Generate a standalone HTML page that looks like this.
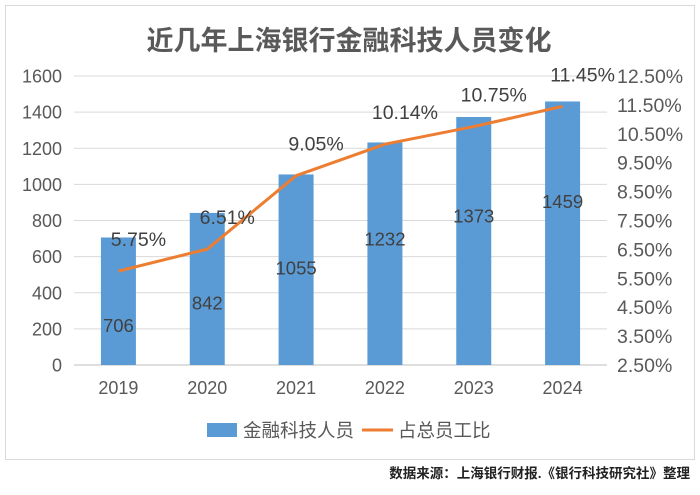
<!DOCTYPE html>
<html><head><meta charset="utf-8"><style>
body{margin:0;background:#fff;width:700px;height:490px;overflow:hidden;font-family:"Liberation Sans","Noto Sans CJK SC",sans-serif}
</style></head><body>
<svg width="700" height="490" style="font-family:'Liberation Sans','Noto Sans CJK SC',sans-serif">
<rect x="5.5" y="5.5" width="689" height="454" fill="#fff" stroke="#d9d9d9"/>
<text x="349" y="50" text-anchor="middle" font-size="27" font-weight="bold" fill="#595959">近几年上海银行金融科技人员变化</text>
<g id="grid"></g><g id="bars"></g><g id="line"></g><g id="axes"></g>
<g>
<rect x="207" y="423" width="30" height="14" fill="#5b9bd5"/>
<text x="243" y="437" font-size="18.5" fill="#595959">金融科技人员</text>
<line x1="362" y1="430" x2="393" y2="430" stroke="#ed7d31" stroke-width="3"/>
<text x="398" y="437" font-size="18.5" fill="#595959">占总员工比</text>
</g>
<text x="690" y="478" text-anchor="end" font-size="13.5" font-weight="bold" fill="#222">数据来源：上海银行财报.《银行科技研究社》整理</text>
</svg>
<script>
const years=["2019","2020","2021","2022","2023","2024"];
const staff=[706,842,1055,1232,1373,1459];
const ratio=[5.75,6.51,9.05,10.14,10.75,11.45];
const leftTicks=[0,200,400,600,800,1000,1200,1400,1600];
const rightTicks=[2.5,3.5,4.5,5.5,6.5,7.5,8.5,9.5,10.5,11.5,12.5];
const ns="http://www.w3.org/2000/svg";
const x0=74,x1=607,yb=365,yt=76;
const step=(x1-x0)/years.length;
const xc=i=>x0+step*(i+0.5);
const yL=v=>yb-(v/1600)*(yb-yt);
const yR=v=>yb-((v-2.5)/10)*(yb-yt);
function mk(t,a,p){const e=document.createElementNS(ns,t);for(const k in a)e.setAttribute(k,a[k]);p.appendChild(e);return e;}
const grid=document.getElementById('grid'),bars=document.getElementById('bars'),line=document.getElementById('line'),axes=document.getElementById('axes');
leftTicks.forEach(v=>{
 const l=mk('line',{x1:x0,x2:x1,y1:yL(v),y2:yL(v),stroke:v===0?'#bfbfbf':'#d9d9d9','stroke-width':1},grid);
 
 
 const t=mk('text',{x:62,y:yL(v)+6.5,'text-anchor':'end','font-size':18,fill:'#595959'},axes);t.textContent=v;
 
 
});
rightTicks.forEach(v=>{
 const t=mk('text',{x:617,y:yR(v)+7,'font-size':19.5,fill:'#595959'},axes);t.textContent=v.toFixed(2)+'%';
 
 
});
years.forEach((y,i)=>{
 const t=mk('text',{x:xc(i),y:394,'text-anchor':'middle','font-size':18,fill:'#595959'},axes);t.textContent=y;
 
 
});
staff.forEach((v,i)=>{
 const r=mk('rect',{x:xc(i)-17.5,y:yL(v),width:35,height:yb-yL(v),fill:'#5b9bd5'},bars);
 
 
 const t=mk('text',{x:xc(i),y:441.4-0.1647*v+7,'text-anchor':'middle','font-size':18.5,fill:'#404040'},bars);t.textContent=v;
 
 
});
const pl=mk('polyline',{points:ratio.map((v,i)=>xc(i)+','+yR(v)).join(' '),fill:'none',stroke:'#ed7d31','stroke-width':3,'stroke-linejoin':'round'},line);


ratio.forEach((v,i)=>{
 const t=mk('text',{x:xc(i)+20,y:yR(v)-25,'text-anchor':'middle','font-size':19.5,fill:'#404040'},line);t.textContent=v.toFixed(2)+'%';
 
 
});
</script>
</body></html>
